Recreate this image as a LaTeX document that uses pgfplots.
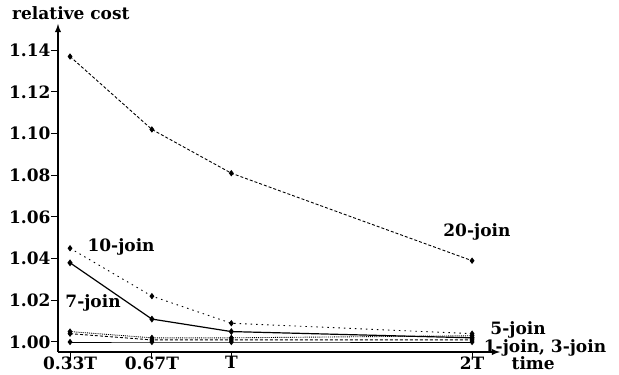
\documentclass[border=0pt]{standalone}
\usepackage{fontspec}
\setmainfont{DejaVu Serif}
\usepackage{pgfplots}
\pgfplotsset{compat=1.18}
\begin{document}
\begin{tikzpicture}
\begin{axis}[
  scale only axis,
  width=442pt, height=328pt,
  xmin=0.28, xmax=2.116,
  ymin=0.9952, ymax=1.1526,
  axis lines=left,
  axis line style={line width=1.8pt,-latex},
  clip=false,
  xtick={0.33,0.67,1,2},
  xticklabels={0.33T,0.67T,T,2T},
  ytick={1.00,1.02,1.04,1.06,1.08,1.10,1.12,1.14},
  /pgf/number format/fixed,
  /pgf/number format/fixed zerofill,
  /pgf/number format/precision=2,
  /pgf/number format/assume math mode=true,
  tick align=outside,
  major tick length=7pt,
  tick style={line width=1pt,black},
  ticklabel style={font=\fontsize{17}{17}\selectfont\bfseries},
  xticklabel style={yshift=6pt},
  yticklabel style={xshift=3pt},
  every axis plot/.append style={black, line width=0.9pt, mark=diamond*, mark size=2.5pt, mark options={solid}},
]
\coordinate (O) at (rel axis cs:0,0);
\addplot[solid] coordinates {(0.33,1.000) (0.67,1.000) (1,1.000) (2,1.000)};
\addplot[densely dashed] coordinates {(0.33,1.004) (0.67,1.001) (1,1.001) (2,1.001)};
\addplot[densely dotted] coordinates {(0.33,1.005) (0.67,1.002) (1,1.002) (2,1.003)};
\addplot[solid, line width=1.2pt] coordinates {(0.33,1.038) (0.67,1.011) (1,1.005) (2,1.002)};
\addplot[dash pattern=on 1.5pt off 4pt] coordinates {(0.33,1.045) (0.67,1.022) (1,1.009) (2,1.004)};
\addplot[dash pattern=on 3pt off 2pt] coordinates {(0.33,1.137) (0.67,1.102) (1,1.081) (2,1.039)};
\begin{scope}[every node/.style={font=\fontsize{17}{17}\selectfont\bfseries, inner sep=0pt}]
\node at (axis cs:2.02,1.0528) {20-join};
\node at (axis cs:0.542,1.0456) {10-join};
\node at (axis cs:0.4256,1.0187) {7-join};
\node at (axis cs:2.191,1.0058) {5-join};
\node at (axis cs:2.303,0.9972) {1-join, 3-join};
\node at (axis cs:2.254,0.9900) {time};
\node[anchor=south west] at (rel axis cs:0,1) [xshift=-46pt, yshift=4pt] {relative cost};
\end{scope}
\end{axis}
\pgfresetboundingbox
\useasboundingbox (O) ++(-58pt,-23pt) rectangle ++(619pt,375pt);
\end{tikzpicture}
\end{document}
